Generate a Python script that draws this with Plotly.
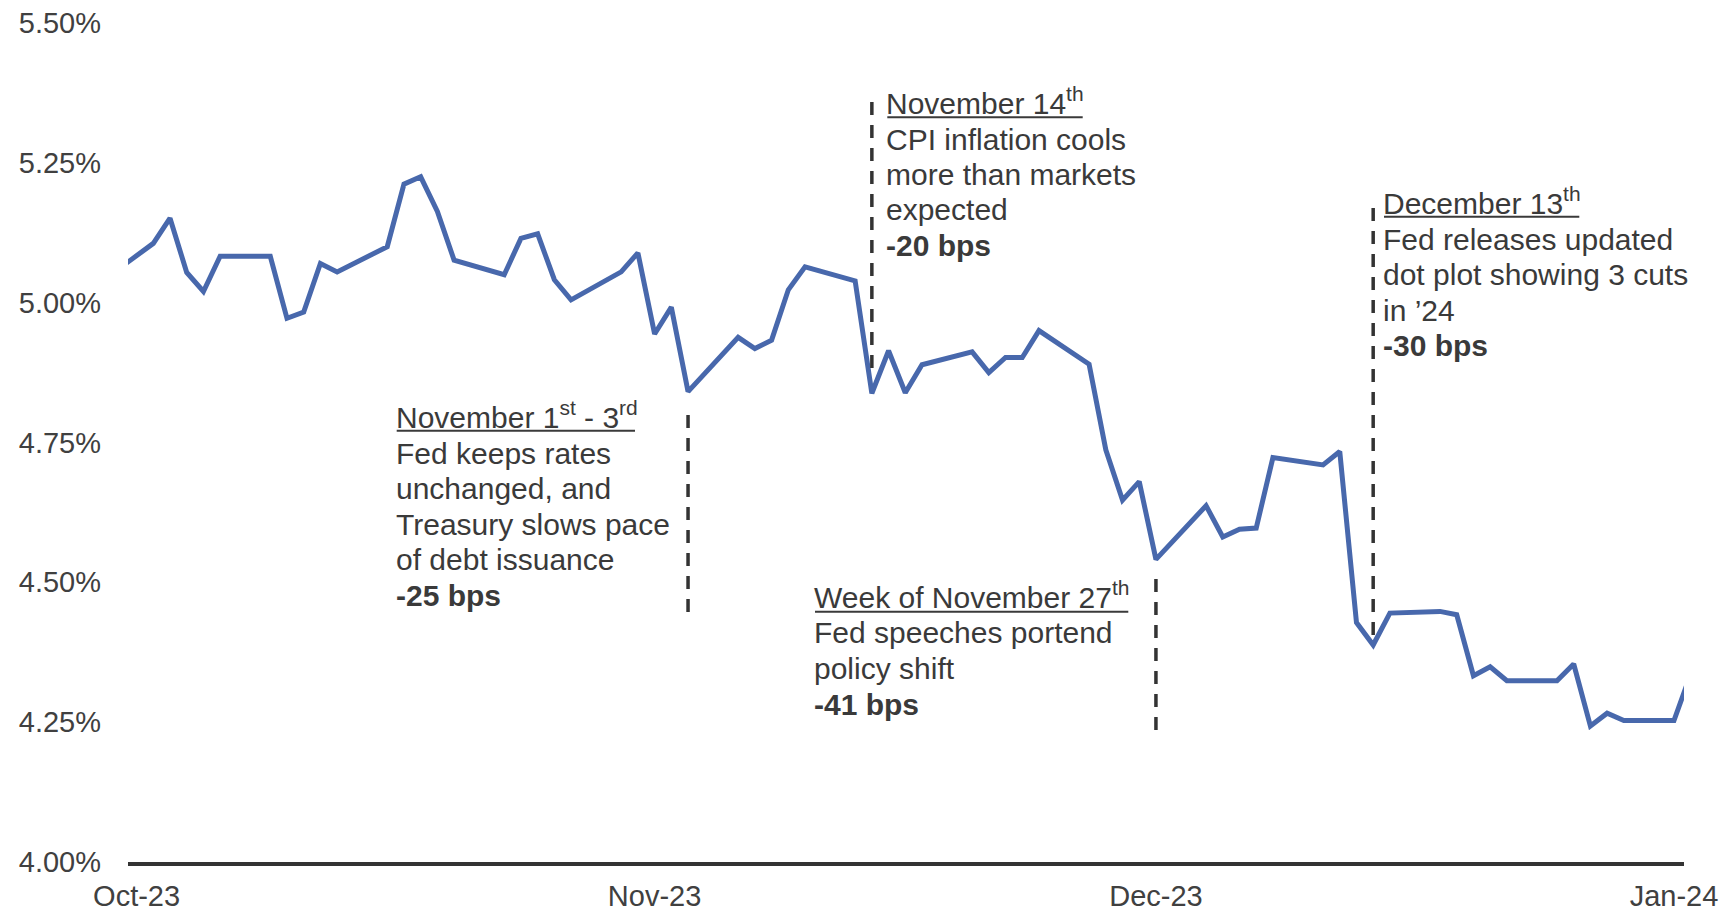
import plotly.graph_objects as go

# ---------------- data ----------------
dates = ["2023-09-29",
         "2023-10-02", "2023-10-03", "2023-10-04", "2023-10-05", "2023-10-06",
         "2023-10-09", "2023-10-10", "2023-10-11", "2023-10-12", "2023-10-13",
         "2023-10-16", "2023-10-17", "2023-10-18", "2023-10-19", "2023-10-20",
         "2023-10-23", "2023-10-24", "2023-10-25", "2023-10-26", "2023-10-27",
         "2023-10-30", "2023-10-31",
         "2023-11-01", "2023-11-02", "2023-11-03",
         "2023-11-06", "2023-11-07", "2023-11-08", "2023-11-09", "2023-11-10",
         "2023-11-13", "2023-11-14", "2023-11-15", "2023-11-16", "2023-11-17",
         "2023-11-20", "2023-11-21", "2023-11-22", "2023-11-23", "2023-11-24",
         "2023-11-27", "2023-11-28", "2023-11-29", "2023-11-30",
         "2023-12-01",
         "2023-12-04", "2023-12-05", "2023-12-06", "2023-12-07", "2023-12-08",
         "2023-12-11", "2023-12-12", "2023-12-13", "2023-12-14", "2023-12-15",
         "2023-12-18", "2023-12-19", "2023-12-20", "2023-12-21", "2023-12-22",
         "2023-12-25", "2023-12-26", "2023-12-27", "2023-12-28", "2023-12-29",
         "2024-01-01", "2024-01-02"]

yields = [5.040,
          5.106, 5.151, 5.054, 5.020, 5.083,
          5.083, 4.972, 4.983, 5.070, 5.055,
          5.100, 5.212, 5.225, 5.163, 5.076,
          5.050, 5.115, 5.123, 5.041, 5.005,
          5.055, 5.089,
          4.944, 4.992, 4.841,
          4.938, 4.918, 4.933, 5.023, 5.064,
          5.039, 4.838, 4.914, 4.839, 4.889,
          4.912, 4.875, 4.902, 4.902, 4.950,
          4.890, 4.737, 4.647, 4.680,
          4.541,
          4.637, 4.581, 4.595, 4.597, 4.723,
          4.710, 4.734, 4.428, 4.388, 4.445,
          4.448, 4.442, 4.333, 4.349, 4.324,
          4.324, 4.354, 4.243, 4.266, 4.253,
          4.253, 4.336]

y_tickvals = [4.00, 4.25, 4.50, 4.75, 5.00, 5.25, 5.50]
y_ticktext = ["4.00%", "4.25%", "4.50%", "4.75%", "5.00%", "5.25%", "5.50%"]
x_tickvals = ["2023-10-01", "2023-11-01", "2023-12-01", "2024-01-01"]
x_ticktext = ["Oct-23", "Nov-23", "Dec-23", "Jan-24"]

event_dates = ["2023-11-03", "2023-11-14", "2023-12-01", "2023-12-14"]
event_low = [4.447, 4.883, 4.236, 4.406]
event_high = [4.817, 5.371, 4.513, 5.184]

event_titles = ["November 1<sup>st</sup> - 3<sup>rd</sup>",
                "November 14<sup>th</sup>",
                "Week of November 27<sup>th</sup>",
                "December 13<sup>th</sup>"]
event_bodies = [["Fed keeps rates", "unchanged, and", "Treasury slows pace", "of debt issuance"],
                ["CPI inflation cools", "more than markets", "expected"],
                ["Fed speeches portend", "policy shift"],
                ["Fed releases updated", "dot plot showing 3 cuts", "in \u201924"]]
event_moves = ["-25 bps", "-20 bps", "-41 bps", "-30 bps"]

# ---------------- layout geometry (pixels) ----------------
W, H = 1732, 912
ML, MR, MT, MB = 128, 48, 23, 50
PW, PH = W - ML - MR, H - MT - MB

def px_x(x):
    return (x - ML) / PW

def px_y(y):
    return (H - MB - y) / PH

# text block placement: left ink edge, first line centre, underline extent
block_left = [398, 888, 815.5, 1385]
block_top = [417, 103, 597, 203]
underline_x = [(396.7, 635), (887.3, 1082.7), (815, 1128.3), (1384, 1579.3)]
underline_y = [430.7, 117.3, 611.7, 216.7]
LINE_STEP = 35.5
FS = 30
TXT = "#3a3a3a"
FONT = "Liberation Sans, Arial, sans-serif"

fig = go.Figure()
fig.add_trace(go.Scatter(x=dates, y=yields, mode="lines",
                         line=dict(color="#4868ac", width=5),
                         hoverinfo="skip", showlegend=False))

shapes = []
for d, lo, hi in zip(event_dates, event_low, event_high):
    shapes.append(dict(type="line", xref="x", yref="y", x0=d, x1=d, y0=lo, y1=hi,
                       line=dict(color="#333333", width=3.5, dash="13px,10px")))
for (ux0, ux1), uy in zip(underline_x, underline_y):
    shapes.append(dict(type="line", xref="paper", yref="paper",
                       x0=px_x(ux0), x1=px_x(ux1), y0=px_y(uy), y1=px_y(uy),
                       line=dict(color="#3a3a3a", width=2)))

annotations = []
for i in range(4):
    lines = [event_titles[i]] + event_bodies[i] + ["<b>" + event_moves[i] + "</b>"]
    for j, t in enumerate(lines):
        cy = block_top[i] + j * LINE_STEP
        annotations.append(dict(xref="paper", yref="paper",
                                x=px_x(block_left[i] - 4), y=px_y(cy + 19),
                                xanchor="left", yanchor="bottom", showarrow=False,
                                text=t, align="left",
                                font=dict(family=FONT, size=FS, color=TXT)))

fig.update_layout(
    template="none",
    width=W, height=H,
    margin=dict(l=ML, r=MR, t=MT, b=MB, pad=0, autoexpand=False),
    paper_bgcolor="white", plot_bgcolor="white",
    font=dict(family=FONT, size=29, color="#404040"),
    showlegend=False,
    shapes=shapes,
    annotations=annotations,
    xaxis=dict(type="date", automargin=False,
               range=["2023-09-30 11:40", "2024-01-01 14:24"],
               tickmode="array", tickvals=x_tickvals, ticktext=x_ticktext,
               showgrid=False, zeroline=False,
               showline=True, linecolor="#333333", linewidth=4,
               ticks="", ticklabelstandoff=5,
               tickfont=dict(size=29, color="#404040", family=FONT)),
    yaxis=dict(range=[4.0, 5.5], automargin=False,
               tickmode="array", tickvals=y_tickvals, ticktext=y_ticktext,
               showgrid=False, zeroline=False, showline=False,
               ticks="", ticklabelstandoff=26,
               tickfont=dict(size=29, color="#404040", family=FONT)),
)

fig.write_html("out.html", config={"displayModeBar": False},
               post_script="document.body.style.margin='0';")
